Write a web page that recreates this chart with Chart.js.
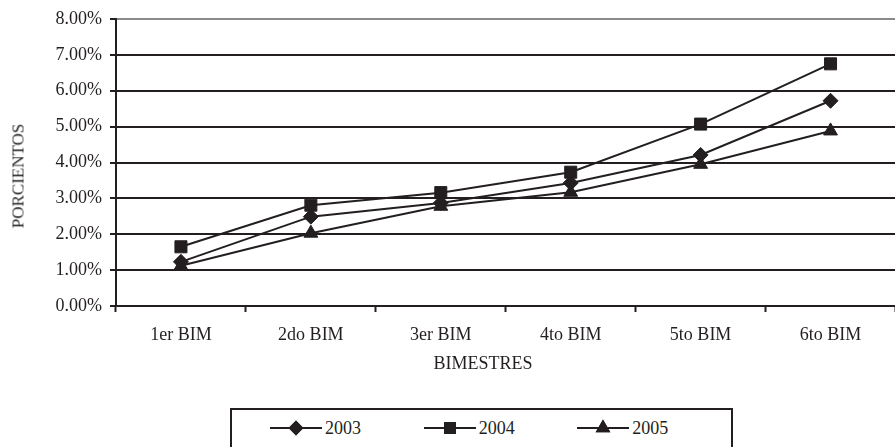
<!DOCTYPE html>
<html>
<head>
<meta charset="utf-8">
<script src="https://cdn.jsdelivr.net/npm/chart.js@4/dist/chart.umd.min.js"></script>
<style>
	html, body { margin: 0; padding: 0; background: #fff; overflow: hidden; }
	#wrap { position: relative; width: 895px; height: 447px; overflow: hidden; }
	#chart1 { position: absolute; left: 0; top: 0; }
	.axis-title {
		position: absolute; white-space: nowrap; color: #231f20; line-height: 1;
		font-family: 'Liberation Serif', 'Times New Roman', serif; font-size: 18px;
		transform: translate(-50%, -50%);
	}
	#yTitle { left: 18px; top: 176px; font-size: 17px; transform: translate(-50%, -50%) rotate(-90deg); }
	#xTitle { left: 483px; top: 363px; }
	#chart1Legend {
		position: absolute; left: 230px; top: 408px; width: 503px; height: 60px;
		box-sizing: border-box; border: 2px solid #231f20; background: #fff;
	}
	.tc-chart-js-legend { list-style: none; margin: 0; padding: 0 0 0 38px; display: flex; }
	.tc-chart-js-legend li {
		width: 167px; height: 20px; margin-top: 8px; display: flex; align-items: center;
		font-family: 'Liberation Serif', 'Times New Roman', serif; font-size: 18px; color: #231f20;
	}
	.tc-chart-js-legend canvas { margin-right: 3px; }
</style>
</head>
<body>
<div id="wrap">
	<canvas id="chart1" width="905" height="447"></canvas>
	<div id="yTitle" class="axis-title">PORCIENTOS</div>
	<div id="xTitle" class="axis-title">BIMESTRES</div>
	<div id="chart1Legend"></div>
</div>
<script>
'use strict';
var categories = ['1er BIM', '2do BIM', '3er BIM', '4to BIM', '5to BIM', '6to BIM'];
var series2003 = [1.23, 2.49, 2.87, 3.43, 4.21, 5.72];
var series2004 = [1.65, 2.81, 3.16, 3.73, 5.07, 6.75];
var series2005 = [1.12, 2.03, 2.78, 3.17, 3.95, 4.88];
var yMin = 0, yMax = 8, yStep = 1;

var ink = '#231f20';
var serif = "'Liberation Serif', 'Times New Roman', serif";

var Index = function () {
	var makeSet = function (label, data, style, radius) {
		return {
			label: label,
			data: data,
			borderColor: ink,
			backgroundColor: ink,
			borderWidth: 2,
			tension: 0,
			pointStyle: style,
			pointRadius: radius,
			pointHoverRadius: radius,
			pointBorderWidth: 1,
			pointBackgroundColor: ink,
			pointBorderColor: ink
		};
	};

	var chart1Handler = function () {
		var data = {
			labels: categories,
			datasets: [
				makeSet('2003', series2003, 'rectRot', 7.5),
				makeSet('2004', series2004, 'rect', 8.5),
				makeSet('2005', series2005, 'triangle', 8)
			]
		};
		var options = {
			responsive: false,
			animation: false,
			layout: { padding: { top: 19, left: 0, right: 3, bottom: 0 } },
			plugins: {
				legend: { display: false },
				tooltip: { enabled: false }
			},
			scales: {
				x: {
					offset: true,
					grid: { display: true, offset: true, drawOnChartArea: false, tickLength: 6, tickWidth: 2, tickColor: ink },
					border: { color: ink, width: 2 },
					ticks: { color: ink, padding: 12, font: { family: serif, size: 18 }, maxRotation: 0 },
					afterFit: function (scale) { scale.height = 141; }
				},
				y: {
					min: yMin,
					max: yMax,
					grid: {
						lineWidth: 2,
						tickLength: 6,
						tickWidth: 2,
						tickColor: ink,
						color: function (ctx) { return ctx.tick && ctx.tick.value === yMax ? '#8a8a8a' : ink; }
					},
					border: { color: ink, width: 2 },
					ticks: {
						stepSize: yStep,
						padding: 8,
						color: ink,
						font: { family: serif, size: 18 },
						callback: function (v) { return v.toFixed(2) + '%'; }
					},
					afterFit: function (scale) { scale.width = 116; }
				}
			}
		};
		var ctx = document.getElementById('chart1');
		var myChart = new Chart(ctx, { type: 'line', data: data, options: options });

		// html legend: line with marker, then the year
		var legendTemplate = '<ul class="tc-chart-js-legend">';
		for (var i = 0; i < myChart.data.datasets.length; i++) {
			legendTemplate = legendTemplate + '<li><canvas width="52" height="18"></canvas>' + myChart.data.datasets[i].label + '</li>';
		}
		legendTemplate = legendTemplate + '</ul>';
		var box = document.getElementById('chart1Legend');
		box.innerHTML = legendTemplate;
		var icons = box.querySelectorAll('canvas');
		for (var j = 0; j < icons.length; j++) {
			var ds = myChart.data.datasets[j];
			var c = icons[j].getContext('2d');
			c.strokeStyle = ink;
			c.lineWidth = 2;
			c.beginPath();
			c.moveTo(0, 9);
			c.lineTo(52, 9);
			c.stroke();
			c.fillStyle = ink;
			Chart.helpers.drawPoint(c, { pointStyle: ds.pointStyle, rotation: 0, radius: ds.pointRadius - 1.5, borderWidth: 1 }, 26, 9);
			c.fill();
			c.stroke();
		}
	};
	return {
		init: function () {
			chart1Handler();
		}
	};
}();
Index.init();
</script>
</body>
</html>
